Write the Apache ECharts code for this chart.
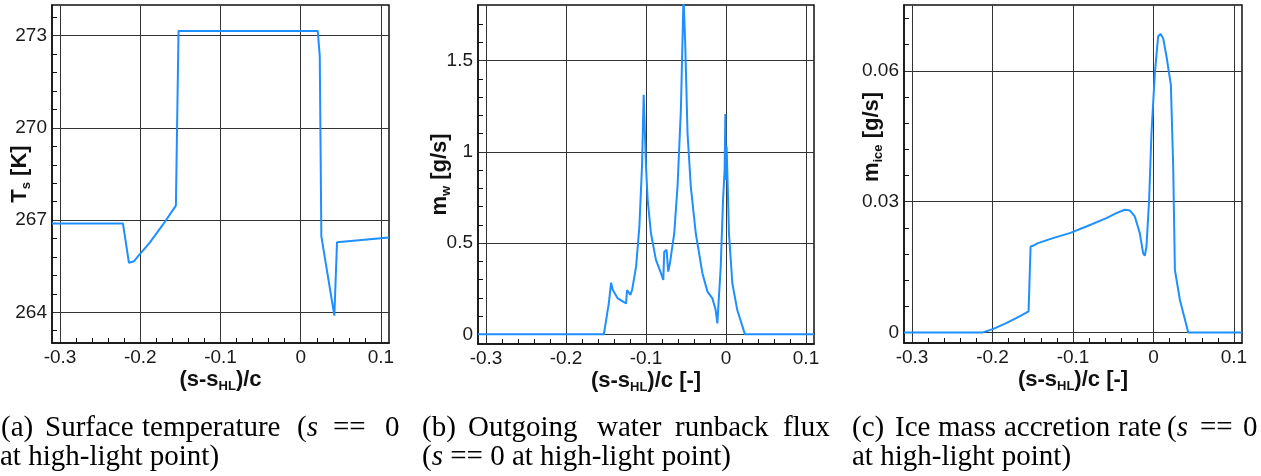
<!DOCTYPE html>
<html>
<head>
<meta charset="utf-8">
<script src="https://cdn.jsdelivr.net/npm/echarts@6/dist/echarts.min.js"></script>
<style>
  html, body { margin: 0; padding: 0; background: #fff; }
  #chart { width: 1261px; height: 476px; }
</style>
</head>
<body>
<div id="chart"></div>
<script>
// (a) surface temperature T_s [K] along (s-s_HL)/c
const tsX = [-0.31, -0.2216, -0.2141, -0.2079, -0.2029, -0.1884, -0.1718, -0.1556, -0.1523,
  0.0212, 0.0237, 0.0257, 0.0419, 0.0436, 0.0452, 0.11]
const tsY = [266.89, 266.89, 265.61, 265.66, 265.82, 266.26, 266.85, 267.47, 273.15,
  273.15, 272.34, 266.47, 263.89, 263.89, 266.28, 266.43]

// (b) outgoing water runback flux m_w [g/s]
const mwX = [-0.31, -0.1527, -0.1498, -0.1465, -0.1436, -0.1415, -0.1353, -0.1249, -0.1237,
  -0.1216, -0.1195, -0.1174, -0.1124, -0.1083, -0.105, -0.1029, -0.1, -0.0979, -0.0938,
  -0.0876, -0.0813, -0.0784, -0.0772, -0.0743, -0.0722, -0.0701, -0.0647, -0.0606, -0.0564,
  -0.0531, -0.051, -0.0481, -0.044, -0.0378, -0.0295, -0.0232, -0.017, -0.0129, -0.0108,
  -0.0095, -0.0066, -0.0037, -0.0017, -0.0008, -0.0004, 0.0008, 0.0017, 0.0037, 0.0079,
  0.0141, 0.0237, 0.11]
const mwY = [0, 0, 0.079, 0.17, 0.283, 0.243, 0.197, 0.17, 0.243,
  0.247, 0.216, 0.243, 0.371, 0.59, 0.92, 1.313, 0.92, 0.737, 0.554,
  0.408, 0.335, 0.298, 0.453, 0.463, 0.344, 0.389, 0.554, 0.81, 1.23,
  1.85, 1.596, 1.102, 0.81, 0.554, 0.335, 0.234, 0.197, 0.133, 0.06,
  0.051, 0.371, 0.737, 0.901, 1.207, 0.846, 1.029, 0.883, 0.554, 0.28,
  0.133, 0, 0]

// (c) ice mass accretion rate m_ice [g/s]
const miceX = [-0.31, -0.212, -0.1996, -0.183, -0.1664, -0.1552, -0.1527, -0.1498, -0.1436,
  -0.1249, -0.1041, -0.0834, -0.0585, -0.0461, -0.0357, -0.0295, -0.0232, -0.017, -0.0129,
  -0.0108, -0.0087, -0.0054, -0.0025, 0.0017, 0.0058, 0.0087, 0.012, 0.0162, 0.0216,
  0.0245, 0.0266, 0.0328, 0.0432, 0.11]
const miceY = [0, 0, 0.00076, 0.00214, 0.00367, 0.00482, 0.01972, 0.01987, 0.02048,
  0.02163, 0.02278, 0.0243, 0.0262, 0.02736, 0.02813, 0.02797, 0.0266, 0.02278, 0.01819,
  0.01758, 0.01972, 0.03042, 0.0457, 0.05946, 0.06787, 0.06848, 0.06749, 0.06329, 0.05679,
  0.03807, 0.01437, 0.00749, 0, 0]

const xTicks = [-0.3, -0.2, -0.1, 0, 0.1]
const tsTicks = [264, 267, 270, 273]
const mwTicks = [0, 0.5, 1, 1.5]
const miceTicks = [0, 0.03, 0.06]

// minor tick positions between the labelled ones
const minorSteps = (from, to, step, majors) => {
  const out = []
  for (let v = from; v <= to + step / 2; v += step) {
    const r = Math.round(v * 1e6) / 1e6
    if (!majors.some(m => Math.abs(m - r) < step / 10)) out.push(r)
  }
  return out
}

const FONT = 'Liberation Sans'
const nameStyle = {
  color: '#111',
  rich: {
    b: {fontFamily: FONT, fontWeight: 'bold', fontSize: 22, color: '#111', lineHeight: 26},
    sub: {fontFamily: FONT, fontWeight: 'bold', fontSize: 13, color: '#111', lineHeight: 12, verticalAlign: 'bottom'},
  },
}

const rects = [
  {left: 52, top: 5, width: 337, height: 338},
  {left: 478, top: 5, width: 336, height: 339},
  {left: 904, top: 5, width: 338, height: 338},
]

const panels = [
  {xs: tsX, ys: tsY, yMin: 263, yMax: 274, yTicks: tsTicks, yMinor: minorSteps(263.4, 273.6, 0.6, tsTicks),
    yName: '{b|T}{sub|s}{b| [K]}', xName: '{b|(s-s}{sub|HL}{b|)/c}', yGap: 19, yPad: [0, 0, 0, 0]},
  {xs: mwX, ys: mwY, yMin: -0.053, yMax: 1.805, yTicks: mwTicks, yMinor: minorSteps(0.1, 1.7, 0.1, mwTicks),
    yName: '{b|m}{sub|w}{b| [g/s]}', xName: '{b|(s-s}{sub|HL}{b|)/c [-]}', yGap: 25, yPad: [0, 0, 0, 0]},
  {xs: miceX, ys: miceY, yMin: -0.00243, yMax: 0.0751, yTicks: miceTicks, yMinor: minorSteps(0.006, 0.072, 0.006, miceTicks),
    yName: '{b|m}{sub|ice}{b| [g/s]}', xName: '{b|(s-s}{sub|HL}{b|)/c [-]}', yGap: 19, yPad: [0, 0, 0, 74]},
]
const xMinor = minorSteps(-0.3, 0.1, 0.02, xTicks)

// grids 0-2 only carry the grid lines, grids 3-5 (same boxes) carry axes, frame and curves
const grid = rects.map(r => Object.assign({show: false, outerBoundsMode: 'none', containLabel: false}, r))
  .concat(rects.map(r => Object.assign({show: true, outerBoundsMode: 'none', containLabel: false,
    borderColor: '#111', borderWidth: 1.5, backgroundColor: 'transparent'}, r)))

const xAxis = []
const yAxis = []
const series = []

panels.forEach((p, i) => {
  xAxis[i] = {
    type: 'value', gridIndex: i, min: -0.31, max: 0.11,
    axisLine: {show: false, onZero: false},
    axisTick: {show: false, customValues: xTicks},
    axisLabel: {show: false},
    splitLine: {show: true, lineStyle: {color: '#333', width: 1}},
  }
  yAxis[i] = {
    type: 'value', gridIndex: i, min: p.yMin, max: p.yMax,
    axisLine: {show: false, onZero: false},
    axisTick: {show: false, customValues: p.yTicks},
    axisLabel: {show: false},
    splitLine: {show: true, lineStyle: {color: '#333', width: 1}},
  }
  xAxis[i + 3] = {
    type: 'value', gridIndex: i + 3, min: -0.31, max: 0.11,
    name: p.xName, nameLocation: 'middle', nameGap: 24, nameMoveOverlap: false, nameTextStyle: nameStyle,
    axisLine: {show: true, onZero: false, lineStyle: {color: '#111', width: 1.5}},
    axisTick: {show: true, inside: true, length: 5, customValues: xMinor, lineStyle: {color: '#111', width: 1}},
    axisLabel: {customValues: xTicks, margin: 5, fontFamily: FONT, fontSize: 19, color: '#1a1a1a'},
    splitLine: {show: false},
  }
  yAxis[i + 3] = {
    type: 'value', gridIndex: i + 3, min: p.yMin, max: p.yMax,
    name: p.yName, nameLocation: 'middle', nameGap: p.yGap, nameMoveOverlap: false,
    nameTextStyle: Object.assign({padding: p.yPad}, nameStyle),
    axisLine: {show: true, onZero: false, lineStyle: {color: '#111', width: 1.5}},
    axisTick: {show: true, inside: true, length: 5, customValues: p.yMinor, lineStyle: {color: '#111', width: 1}},
    axisLabel: {customValues: p.yTicks, margin: 5, fontFamily: FONT, fontSize: 19, color: '#1a1a1a'},
    splitLine: {show: false},
  }
  series.push({
    type: 'line', xAxisIndex: i + 3, yAxisIndex: i + 3,
    data: p.xs.map((x, k) => [x, p.ys[k]]),
    showSymbol: false, animation: false,
    lineStyle: {color: '#1e8fff', width: 2},
  })
})

// sub-figure captions, placed word by word to mimic the justified lines
const CAP = 'Liberation Serif'
const capRich = {
  r: {fontFamily: CAP, fontSize: 29, color: '#111'},
  i: {fontFamily: CAP, fontSize: 29, fontStyle: 'italic', color: '#111'},
}
const captionWords = [
  [1, 0, '{r|(a)}'], [45, 0, '{r|Surface}'], [142, 0, '{r|temperature}'], [297, 0, '{r|(}{i|s}'],
  [333, 0, '{r|==}'], [385, 0, '{r|0}'],
  [0, 1, '{r|at high-light point)}'],
  [422, 0, '{r|(b)}'], [468, 0, '{r|Outgoing}'], [597, 0, '{r|water}'], [675, 0, '{r|runback}'],
  [783, 0, '{r|flux}'],
  [422, 1, '{r|(}{i|s}{r| == 0 at high-light point)}'],
  [852, 0, '{r|(c)}'], [895, 0, '{r|Ice}'], [938, 0, '{r|mass}'], [1004, 0, '{r|accretion}'],
  [1118, 0, '{r|rate}'], [1167, 0, '{r|(}{i|s}'], [1200, 0, '{r|==}'], [1243, 0, '{r|0}'],
  [852, 1, '{r|at high-light point)}'],
]
const lineY = [430, 459]
const graphic = captionWords.map(([x, line, text]) => ({
  type: 'text', left: x, top: lineY[line] - 16,
  style: {text: text, rich: capRich, font: '29px "' + CAP + '"'},
}))

const option = {
  backgroundColor: '#fff',
  animation: false,
  grid,
  xAxis,
  yAxis,
  series,
  graphic,
}

const chartInstance = echarts.init(document.getElementById('chart'))
chartInstance.setOption(option)
</script>
</body>
</html>
